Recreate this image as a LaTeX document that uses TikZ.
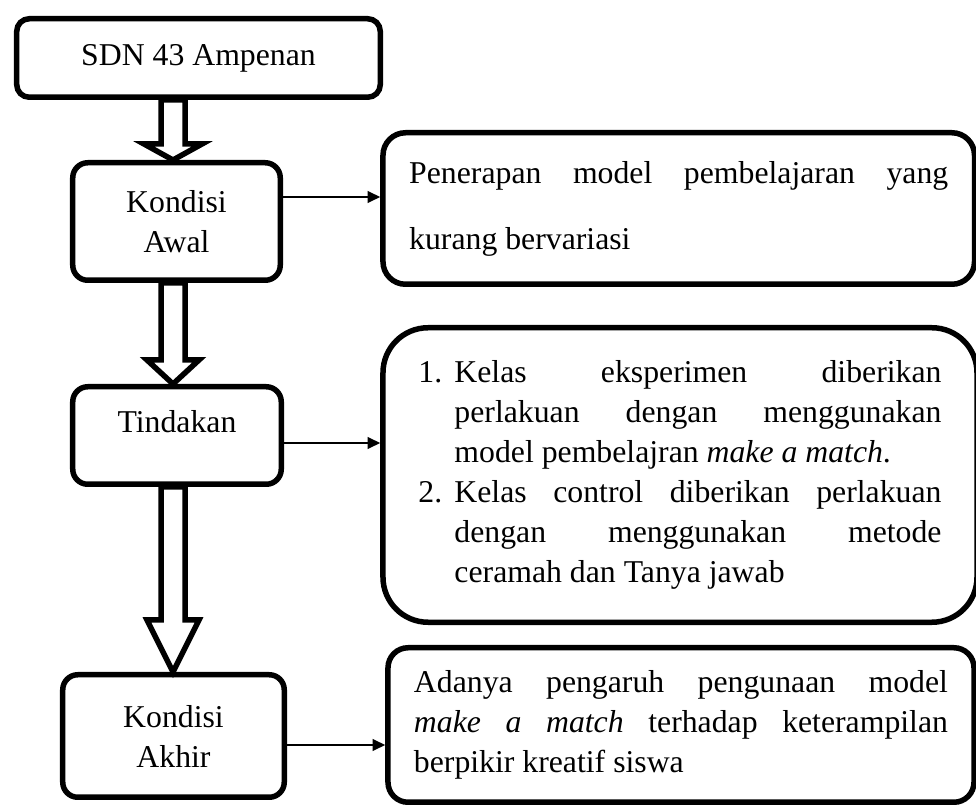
\documentclass[tikz,border=0pt]{standalone}
\usepackage{fontspec}
\setmainfont{Liberation Serif}
\usepackage{tikz}
\usetikzlibrary{calc, arrows.meta}
\hbadness=10000

\begin{document}
\begin{tikzpicture}[
  x=0.4pt, y=-0.4pt,
  font=\fontsize{12.7pt}{16pt}\selectfont,
  stage/.style={
    draw,
    line width=2.2pt,
    rounded corners=5pt,
    align=center,
    inner sep=0pt,
  },
  note/.style={
    draw,
    line width=2.2pt,
    align=justify,
    inner ysep=0pt,
  },
  fat/.style={draw, fill=white, line width=2.2pt, line join=miter},
  link/.style={line width=0.8pt, -{Triangle[length=5pt,width=4.6pt]}},
]
\useasboundingbox (0,0) rectangle (976,806);

% --- left column ---
\node[stage, minimum width=145.4pt, minimum height=31.4pt] (sdn) at (198.5,58) {SDN 43 Ampenan};
\node[stage, rounded corners=6pt, minimum width=83pt, minimum height=47pt] (awal) at (176.5,221.5) {Kondisi\\Awal};
\node[stage, rounded corners=6pt, minimum width=83.4pt, minimum height=39pt,
      text height=9pt, text depth=11pt] (tindakan) at (177,435.5) {Tindakan};
\node[stage, rounded corners=6pt, minimum width=88.6pt, minimum height=49pt] (akhir) at (173.5,736) {Kondisi\\Akhir};

% --- right column ---
\node[note, rounded corners=9pt, text width=215.6pt, inner xsep=10.5pt, minimum height=60.6pt,
      font=\fontsize{12.7pt}{26.4pt}\selectfont] (penerapan) at (678.75,208.5) {%
  Penerapan model pembelajaran yang\linebreak kurang bervariasi\par};

\node[note, rounded corners=18pt, text width=209.2pt, inner xsep=14.2pt, minimum height=117.8pt] (kelas) at (680,475) {%
  \noindent\hangindent=14.4pt\hangafter=1\makebox[14.4pt][l]{1.}Kelas eksperimen diberikan\linebreak
  perlakuan dengan menggunakan\linebreak model pembelajran \textit{make a match}.\par
  \noindent\hangindent=14.4pt\hangafter=1\makebox[14.4pt][l]{2.}Kelas control diberikan perlakuan\linebreak
  dengan menggunakan metode\linebreak ceramah dan Tanya jawab\par};

\node[note, rounded corners=8pt, text width=213.6pt, inner xsep=10.4pt, minimum height=61.8pt] (hasil) at (681,725) {%
  Adanya pengaruh pengunaan model\linebreak \textit{make a match} terhadap keterampilan\linebreak berpikir kreatif siswa\par};

% Block arrows down the left column
\coordinate (spine) at (173,0);

\coordinate (Tail1) at (sdn.south -| spine);
\coordinate (Tip1) at (awal.north -| spine);
\draw[fat] ($(Tail1)+(-12,0)$) -- ($(Tip1)+(-12,-16)$) -- ($(Tip1)+(-29,-16)$) -- (Tip1)
  -- ($(Tip1)+(29,-16)$) -- ($(Tip1)+(12,-16)$) -- ($(Tail1)+(12,0)$) -- cycle;

\coordinate (Tail2) at (awal.south -| spine);
\coordinate (Tip2) at (tindakan.north -| spine);
\draw[fat] ($(Tail2)+(-12,0)$) -- ($(Tip2)+(-12,-24)$) -- ($(Tip2)+(-26,-24)$) -- (Tip2)
  -- ($(Tip2)+(26,-24)$) -- ($(Tip2)+(12,-24)$) -- ($(Tail2)+(12,0)$) -- cycle;

\coordinate (Tail3) at (tindakan.south -| spine);
\coordinate (Tip3) at (akhir.north -| spine);
\draw[fat] ($(Tail3)+(-12,0)$) -- ($(Tip3)+(-12,-52)$) -- ($(Tip3)+(-26,-52)$) -- (Tip3)
  -- ($(Tip3)+(26,-52)$) -- ($(Tip3)+(12,-52)$) -- ($(Tail3)+(12,0)$) -- cycle;

% Thin arrows to the notes
\coordinate (Out1) at ($(awal.east)+(0,-24.5)$);
\draw[link] (Out1) -- (Out1 -| penerapan.west);

\coordinate (Out2) at ($(tindakan.east)+(0,7.5)$);
\draw[link] (Out2) -- (Out2 -| kelas.west);

\coordinate (Out3) at ($(akhir.east)+(0,9)$);
\draw[link] (Out3) -- (Out3 -| hasil.west);

\end{tikzpicture}
\end{document}
